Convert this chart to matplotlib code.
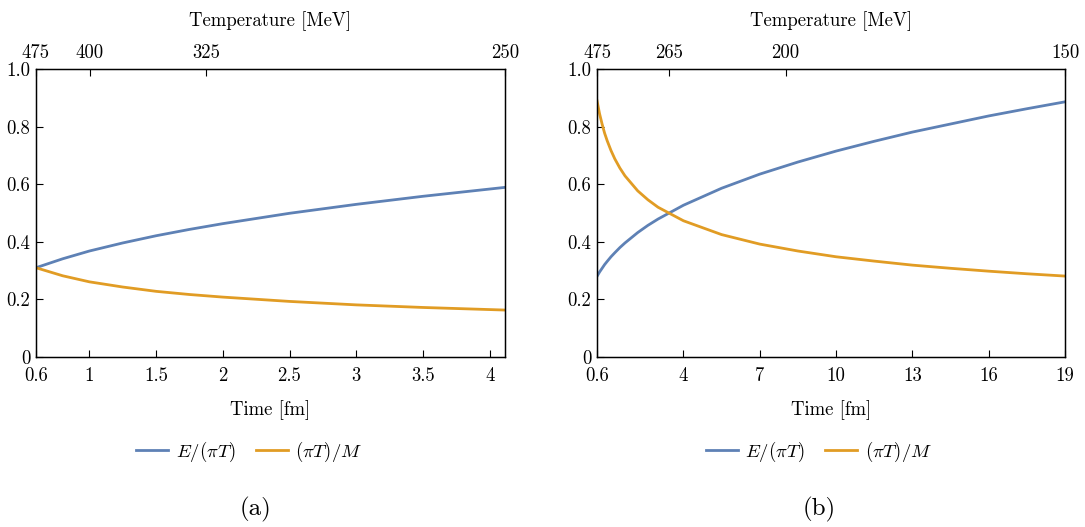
import matplotlib
matplotlib.use("Agg")
import matplotlib.pyplot as plt
import numpy as np

plt.rcParams["font.family"] = "serif"
plt.rcParams["font.serif"] = ["cmr10", "DejaVu Serif"]
plt.rcParams["mathtext.fontset"] = "cm"
plt.rcParams["axes.formatter.use_mathtext"] = True

# Panel (a) data
time_a = [0.6, 0.8, 1.0, 1.25, 1.5, 1.75, 2.0, 2.5, 3.0, 3.5, 4.115]
e_over_pit_a = [0.310, 0.341, 0.368, 0.396, 0.421, 0.443, 0.463, 0.499, 0.530, 0.558, 0.589]
pit_over_m_a = [0.310, 0.282, 0.261, 0.243, 0.228, 0.217, 0.208, 0.193, 0.181, 0.172, 0.163]
xticks_a = [0.6, 1, 1.5, 2, 2.5, 3, 3.5, 4]
xticklabels_a = ["0.6", "1", "1.5", "2", "2.5", "3", "3.5", "4"]
temps_a = [475, 400, 325, 250]

# Panel (b) data
time_b = [0.6, 0.7, 0.8, 0.9, 1.0, 1.15, 1.3, 1.5, 1.7, 2.2, 2.6, 3.0, 4.0, 5.5,
          7.0, 8.5, 10, 11.5, 13, 14.5, 16, 17.5, 19]
e_over_pit_b = [0.280, 0.295, 0.308, 0.321, 0.332, 0.348, 0.362, 0.380, 0.396, 0.432,
                0.457, 0.479, 0.527, 0.586, 0.635, 0.677, 0.715, 0.749, 0.781, 0.809,
                0.837, 0.862, 0.886]
pit_over_m_b = [0.890, 0.845, 0.809, 0.777, 0.751, 0.717, 0.688, 0.656, 0.629, 0.577,
                0.546, 0.520, 0.473, 0.425, 0.392, 0.368, 0.348, 0.333, 0.319, 0.308,
                0.298, 0.289, 0.281]
xticks_b = [0.6, 4, 7, 10, 13, 16, 19]
xticklabels_b = ["0.6", "4", "7", "10", "13", "16", "19"]
temps_b = [475, 265, 200, 150]

yticks = [0, 0.2, 0.4, 0.6, 0.8, 1.0]
yticklabels = ["0", "0.2", "0.4", "0.6", "0.8", "1.0"]

blue = "#5E81B5"
orange = "#E19C24"
fs = 13.5

fig = plt.figure(figsize=(10.85, 5.27), dpi=100)
W, H = 1085, 527


def panel(left, right, t, e, p, xt, xtl, temps, tag, leg_x, tag_x):
    ax = fig.add_axes([left / W, 1 - 357 / H, (right - left) / W, 288 / H])
    ax.plot(t, e, color=blue, lw=2, label=r"$E/(\pi T)$")
    ax.plot(t, p, color=orange, lw=2, label=r"$(\pi T)/M$")
    ax.set_xlim(t[0], t[-1])
    ax.set_ylim(0, 1)
    ax.set_xticks(xt)
    ax.set_xticklabels(xtl, fontsize=fs)
    ax.set_yticks(yticks)
    ax.set_yticklabels(yticklabels, fontsize=fs)
    ax.tick_params(direction="in", length=5, width=0.8, pad=7.5)
    ax.tick_params(axis="y", pad=4)
    ax.set_xlabel("Time [fm]", fontsize=fs, labelpad=11)
    for s in ax.spines.values():
        s.set_linewidth(1.0)

    # top temperature axis, T ~ t^(-1/3)
    ax2 = ax.twiny()
    ax2.set_xlim(ax.get_xlim())
    ax2.set_xticks([t[0] * (temps[0] / T) ** 3 for T in temps])
    ax2.set_xticklabels([str(T) for T in temps], fontsize=fs)
    ax2.tick_params(direction="in", length=5, width=0.8, pad=5)
    ax2.set_xlabel("Temperature [MeV]", fontsize=fs, labelpad=13)

    ax.legend(loc="center", bbox_to_anchor=(leg_x, -0.33), ncol=2, frameon=False,
              fontsize=fs, handlelength=1.7, columnspacing=1.1, handletextpad=0.4)
    ax.text(tag_x, -0.53, tag, transform=ax.transAxes, ha="center", va="center",
            fontsize=18)


panel(36, 505, time_a, e_over_pit_a, pit_over_m_a, xticks_a, xticklabels_a, temps_a,
      "(a)", 0.455, 0.467)
panel(597, 1065, time_b, e_over_pit_b, pit_over_m_b, xticks_b, xticklabels_b, temps_b,
      "(b)", 0.474, 0.474)

fig.savefig("out.png", dpi=100)
